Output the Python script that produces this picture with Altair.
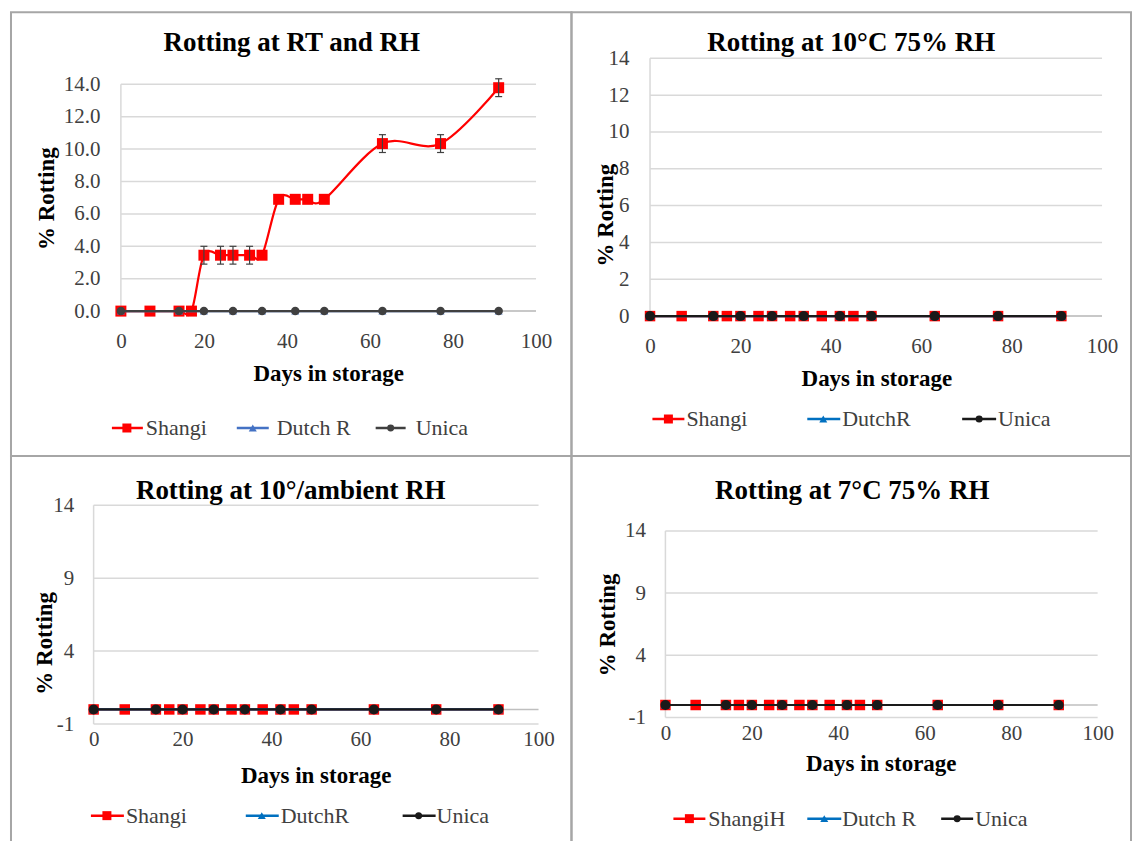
import altair as alt
import pandas as pd

# ---------------------------------------------------------------- data
SHANGI_DAYS = [0, 7, 14, 17, 20, 24, 27, 31, 34, 38, 42, 45, 49, 63, 77, 91]
OTHER_DAYS = [0, 14, 20, 27, 34, 42, 49, 63, 77, 91]
X_TICKS = [0, 20, 40, 60, 80, 100]

# Room temperature / ambient RH
RT_SHANGI = [0, 0, 0, 0, 3.45, 3.45, 3.45, 3.45, 3.45, 6.9, 6.9, 6.9, 6.9, 10.34, 10.34, 13.79]
RT_SHANGI_ERR = [0, 0, 0, 0, 0.55, 0.55, 0.55, 0.55, 0, 0, 0, 0, 0, 0.55, 0.55, 0.55]
RT_DUTCH = [0, 0, 0, 0, 0, 0, 0, 0, 0, 0]
RT_UNICA = [0, 0, 0, 0, 0, 0, 0, 0, 0, 0]

# 10 degC, 75 % RH
C10_SHANGI = [0, 0, 0, 0, 0, 0, 0, 0, 0, 0, 0, 0, 0, 0, 0, 0]
C10_DUTCH = [0, 0, 0, 0, 0, 0, 0, 0, 0, 0]
C10_UNICA = [0, 0, 0, 0, 0, 0, 0, 0, 0, 0]

# 10 degC, ambient RH
C10A_SHANGI = [0, 0, 0, 0, 0, 0, 0, 0, 0, 0, 0, 0, 0, 0, 0, 0]
C10A_DUTCH = [0, 0, 0, 0, 0, 0, 0, 0, 0, 0]
C10A_UNICA = [0, 0, 0, 0, 0, 0, 0, 0, 0, 0]

# 7 degC, 75 % RH
C7_SHANGI = [0, 0, 0, 0, 0, 0, 0, 0, 0, 0, 0, 0, 0, 0, 0, 0]
C7_DUTCH = [0, 0, 0, 0, 0, 0, 0, 0, 0, 0]
C7_UNICA = [0, 0, 0, 0, 0, 0, 0, 0, 0, 0]

TITLES = ["Rotting at RT and RH", "Rotting at 10°C 75% RH",
          "Rotting at 10°/ambient RH", "Rotting at 7°C 75% RH"]
NAMES_1 = ["Shangi", "Dutch R", "Unica"]
NAMES_2 = ["Shangi", "DutchR", "Unica"]
NAMES_3 = ["Shangi", "DutchR", "Unica"]
NAMES_4 = ["ShangiH", "Dutch R", "Unica"]
Y_TICKS_A = [0, 2, 4, 6, 8, 10, 12, 14]
Y_TICKS_B = [-1, 4, 9, 14]
X_TITLE = "Days in storage"
Y_TITLE = "% Rotting"

# ---------------------------------------------------------------- style
FONT = "Liberation Serif, 'Times New Roman', serif"
GRID = "#d9d9d9"
AXIS_LINE = "#bfbfbf"
FRAME = "#a6a6a6"
TICK_COLOR = "#404040"
ERR_COLOR = "#404040"
ONE = alt.Data(values=[{"k": 0}])


def build_panel(title, names, series, yticks, ylabel_expr, g):
    xs = alt.Scale(domain=[0, 100], range=[g["x0"], g["x1"]], nice=False, zero=False)
    ys = alt.Scale(domain=[yticks[0], yticks[-1]], range=[g["yb"], g["yt"]],
                   nice=False, zero=False)
    x_axis = alt.Axis(values=X_TICKS, orient="bottom", offset=g["yb"] - g["h"],
                      labelPadding=g["xpad"], labelBaseline="middle", ticks=False,
                      tickSize=0, domain=False, grid=False, title=None,
                      labelFont=FONT, labelFontSize=21, labelColor=TICK_COLOR,
                      labelFlush=False, labelOverlap=False, labelBound=False)
    y_axis = alt.Axis(values=yticks, orient="left", offset=-g["x0"],
                      labelPadding=g["ypad"], ticks=False, tickSize=0, domain=False,
                      grid=False, title=None, labelFont=FONT, labelFontSize=21,
                      labelColor=TICK_COLOR, labelExpr=ylabel_expr,
                      labelFlush=False, labelOverlap=False, labelBound=False)

    def X(f):
        return alt.X(f, type="quantitative", scale=xs, axis=x_axis)

    def Y(f):
        return alt.Y(f, type="quantitative", scale=ys, axis=y_axis)

    def XD(v):
        return alt.XDatum(v, type="quantitative", scale=xs, axis=x_axis)

    def YD(v):
        return alt.YDatum(v, type="quantitative", scale=ys, axis=y_axis)

    layers = []
    # horizontal gridlines
    layers.append(
        alt.Chart(pd.DataFrame({"v": yticks})).mark_rule(color=GRID, strokeWidth=1.5)
        .encode(x=XD(0), x2=alt.X2Datum(100), y=Y("v"))
    )
    # vertical axis line
    layers.append(
        alt.Chart(ONE).mark_rule(color=GRID, strokeWidth=1.5)
        .encode(x=XD(0), y=YD(yticks[0]), y2=alt.Y2Datum(yticks[-1]))
    )
    # horizontal axis line, crossing at zero
    layers.append(
        alt.Chart(ONE).mark_rule(color=AXIS_LINE, strokeWidth=1.5)
        .encode(x=XD(0), x2=alt.X2Datum(100), y=YD(0))
    )

    # series: Shangi, Dutch R, Unica (drawn in that order)
    for s in series:
        df = pd.DataFrame({"day": s["days"], "pct": s["values"]})
        layers.append(
            alt.Chart(df).mark_line(color=s["color"], strokeWidth=s["lw"],
                                    interpolate=s.get("interp", "linear"), tension=0)
            .encode(x=X("day"), y=Y("pct"))
        )
        layers.append(
            alt.Chart(df).mark_point(shape=s["shape"], filled=True, size=s["size"],
                                     color=s["color"], opacity=1, strokeWidth=0)
            .encode(x=X("day"), y=Y("pct"))
        )
        if "err" in s:
            ed = pd.DataFrame({"day": s["days"], "pct": s["values"], "err": s["err"]})
            ed = ed[ed["err"] > 0].copy()
            ed["lo"] = ed["pct"] - ed["err"]
            ed["hi"] = ed["pct"] + ed["err"]
            layers.append(
                alt.Chart(ed).mark_rule(color=ERR_COLOR, strokeWidth=1.2)
                .encode(x=X("day"), y=Y("lo"), y2=alt.Y2("hi"))
            )
            for end in ("lo", "hi"):
                layers.append(
                    alt.Chart(ed).mark_tick(orient="horizontal", color=ERR_COLOR,
                                            size=7, thickness=1.2, opacity=1)
                    .encode(x=X("day"), y=Y(end))
                )

    # legend row
    ly = g["legend_y"]
    for name, s, (l0, l1, mx, tx) in zip(names, series, g["legend"]):
        layers.append(
            alt.Chart(ONE).mark_rule(color=s["color"], strokeWidth=2.5)
            .encode(x=alt.value(l0), x2=alt.value(l1), y=alt.value(ly))
        )
        layers.append(
            alt.Chart(ONE).mark_point(shape=s["shape"], filled=True, size=s["lsize"],
                                      color=s["color"], opacity=1, strokeWidth=0)
            .encode(x=alt.value(mx), y=alt.value(ly))
        )
        layers.append(
            alt.Chart(ONE).mark_text(align="left", baseline="middle", font=FONT,
                                     fontSize=22, color=TICK_COLOR)
            .encode(x=alt.value(tx), y=alt.value(ly), text=alt.value(name))
        )

    # titles
    layers.append(
        alt.Chart(ONE).mark_text(align="center", baseline="alphabetic", font=FONT,
                                 fontSize=27, fontWeight="bold", color="#000000")
        .encode(x=alt.value(g["title"][0]), y=alt.value(g["title"][1]),
                text=alt.value(title))
    )
    layers.append(
        alt.Chart(ONE).mark_text(align="center", baseline="middle", font=FONT,
                                 fontSize=23, fontWeight="bold", color="#000000")
        .encode(x=alt.value(g["xtitle"][0]), y=alt.value(g["xtitle"][1]),
                text=alt.value(X_TITLE))
    )
    layers.append(
        alt.Chart(ONE).mark_text(align="center", baseline="middle", font=FONT,
                                 fontSize=23, fontWeight="bold", color="#000000",
                                 angle=270)
        .encode(x=alt.value(g["ytitle"][0]), y=alt.value(g["ytitle"][1]),
                text=alt.value(Y_TITLE))
    )

    return alt.layer(*layers).properties(width=g["w"], height=g["h"])


def series_set(shangi, dutch, unica, red, blue, dark, big, shangi_err=None, smooth=False):
    sh = {"days": SHANGI_DAYS, "values": shangi, "color": red, "shape": "square",
          "size": big["sq"], "lsize": 81, "lw": 2.2,
          "interp": "cardinal" if smooth else "linear"}
    if shangi_err is not None:
        sh["err"] = shangi_err
    du = {"days": OTHER_DAYS, "values": dutch, "color": blue, "shape": "triangle-up",
          "size": big["tri"], "lsize": 64, "lw": 2.2}
    un = {"days": OTHER_DAYS, "values": unica, "color": dark, "shape": "circle",
          "size": big["ci"], "lsize": 49, "lw": 2.2}
    return [sh, du, un]


GEOM_1 = {"x0": 110, "x1": 525.5, "yb": 299, "yt": 72, "w": 561, "h": 444,
          "xpad": 30, "ypad": 21, "title": (281, 39), "ytitle": (36, 186.5),
          "xtitle": (318, 362), "legend_y": 416,
          "legend": [(101, 132, 116, 135), (226, 258, 242, 266), (365, 395, 380, 405)]}
GEOM_2 = {"x0": 78.6, "x1": 531, "yb": 304, "yt": 46, "w": 560, "h": 444,
          "xpad": 30, "ypad": 21, "title": (280, 39), "ytitle": (35, 203),
          "xtitle": (305.6, 367), "legend_y": 407,
          "legend": [(81, 113, 97, 115), (236, 269, 252, 271), (391, 425, 408, 427)]}
GEOM_3 = {"x0": 82.7, "x1": 528, "yb": 268.3, "yt": 49.3, "w": 561, "h": 388,
          "xpad": 15, "ypad": 20, "title": (280, 43), "ytitle": (34.5, 187.5),
          "xtitle": (305.5, 320), "legend_y": 360,
          "legend": [(80, 113, 96, 115), (235, 268, 251, 270), (392, 425, 408, 426)]}
GEOM_4 = {"x0": 94, "x1": 526.6, "yb": 261.7, "yt": 75, "w": 560, "h": 388,
          "xpad": 16, "ypad": 20, "title": (281, 42.7), "ytitle": (36.6, 169),
          "xtitle": (310, 308), "legend_y": 363,
          "legend": [(102, 134, 118, 137), (236, 270, 253, 271), (370, 402, 386, 404)]}

SMALL = {"sq": 121, "tri": 64, "ci": 72}
LARGE = {"sq": 110, "tri": 80, "ci": 100}

p1 = build_panel(TITLES[0], NAMES_1,
                 series_set(RT_SHANGI, RT_DUTCH, RT_UNICA, "#ff0000", "#4472c4",
                            "#404040", SMALL, RT_SHANGI_ERR, smooth=True),
                 Y_TICKS_A, "format(datum.value, '.1f')", GEOM_1)
p2 = build_panel(TITLES[1], NAMES_2,
                 series_set(C10_SHANGI, C10_DUTCH, C10_UNICA, "#ff0000", "#0070c0",
                            "#1a1a1a", LARGE),
                 Y_TICKS_A, "'' + datum.value", GEOM_2)
p3 = build_panel(TITLES[2], NAMES_3,
                 series_set(C10A_SHANGI, C10A_DUTCH, C10A_UNICA, "#ff0000", "#0070c0",
                            "#1a1a1a", LARGE),
                 Y_TICKS_B, "'' + datum.value", GEOM_3)
p4 = build_panel(TITLES[3], NAMES_4,
                 series_set(C7_SHANGI, C7_DUTCH, C7_UNICA, "#ff0000", "#0070c0",
                            "#1a1a1a", LARGE),
                 Y_TICKS_B, "'' + datum.value", GEOM_4)

chart = alt.concat(
    p1, p2, p3, p4, columns=2, spacing=0, bounds="flush",
).properties(
    padding={"left": 10, "top": 11, "right": 0, "bottom": 0},
    background="white",
).configure_view(stroke=FRAME, strokeWidth=2)

chart.save("out.html", embed_options={"renderer": "svg", "actions": False})
